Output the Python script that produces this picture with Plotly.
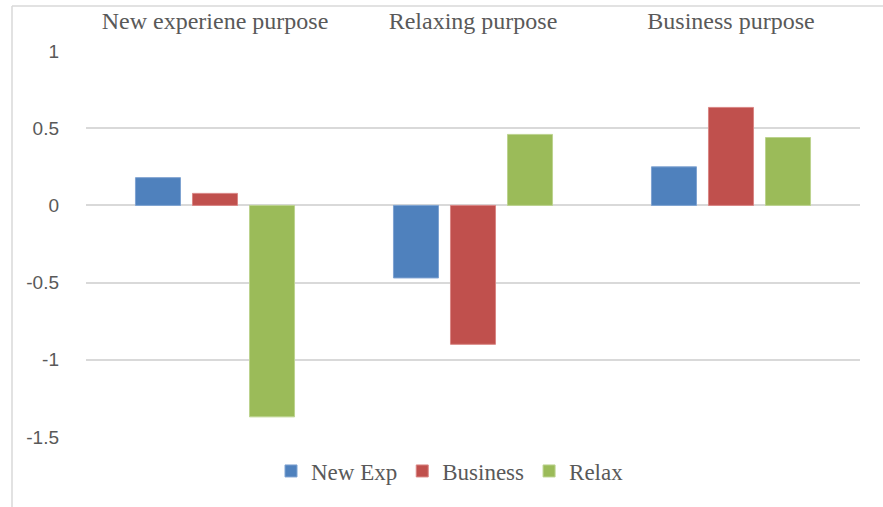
import plotly.graph_objects as go

categories = ["New experiene purpose", "Relaxing purpose", "Business purpose"]
new_exp = [0.18, -0.47, 0.25]
business = [0.078, -0.90, 0.635]
relax = [-1.37, 0.46, 0.44]
y_tickvals = [1, 0.5, 0, -0.5, -1, -1.5]
y_ticktext = ["1", "0.5", "0", "-0.5", "-1", "-1.5"]

series = [
    ("New Exp", new_exp, "#4F81BD", "#7FA3D1"),
    ("Business", business, "#C0504D", "#D98684"),
    ("Relax", relax, "#9BBB59", "#BCD38F"),
]

fig = go.Figure()
for name, vals, col, edge in series:
    fig.add_trace(go.Bar(
        name=name, x=categories, y=vals,
        marker=dict(color=col, line=dict(color=edge, width=1)),
    ))

W, H = 883, 507
L, R, T, B = 86, 860, 51, 437
pw, ph = R - L, B - T

def px_x(px):
    return (px - L) / pw

def px_y(py):
    return (B - py) / ph

SERIF = "Liberation Serif, Times New Roman, serif"

fig.update_layout(
    width=W, height=H,
    margin=dict(l=L, r=W - R, t=T, b=H - B),
    paper_bgcolor="white", plot_bgcolor="white",
    barmode="group", bargap=0.337, bargroupgap=0.21,
    showlegend=True,
    legend=dict(
        orientation="h", x=px_x(450), xanchor="center", y=px_y(471), yanchor="middle",
        font=dict(family=SERIF, size=23, color="#595959"),
        itemwidth=30, traceorder="normal",
    ),
    xaxis=dict(
        side="top", showgrid=False, showline=False, zeroline=False,
        ticks="", ticklabelstandoff=16, automargin=False,
        tickfont=dict(family=SERIF, size=24, color="#595959"),
    ),
    yaxis=dict(
        range=[-1.5005, 1.0005], tickvals=y_tickvals, ticktext=y_ticktext,
        showgrid=True, gridcolor="#D9D9D9", gridwidth=1.5, automargin=False,
        zeroline=False, showline=False, ticks="", ticklabelstandoff=26,
        tickfont=dict(family="Liberation Sans", size=19, color="#595959"),
    ),
    shapes=[
        dict(type="line", xref="paper", yref="paper",
             x0=px_x(12), x1=px_x(883), y0=px_y(6), y1=px_y(6),
             line=dict(color="#D9D9D9", width=1.5)),
        dict(type="line", xref="paper", yref="paper",
             x0=px_x(12), x1=px_x(12), y0=px_y(6), y1=px_y(507),
             line=dict(color="#D9D9D9", width=1.5)),
    ],
)

fig.write_html("out.html")
